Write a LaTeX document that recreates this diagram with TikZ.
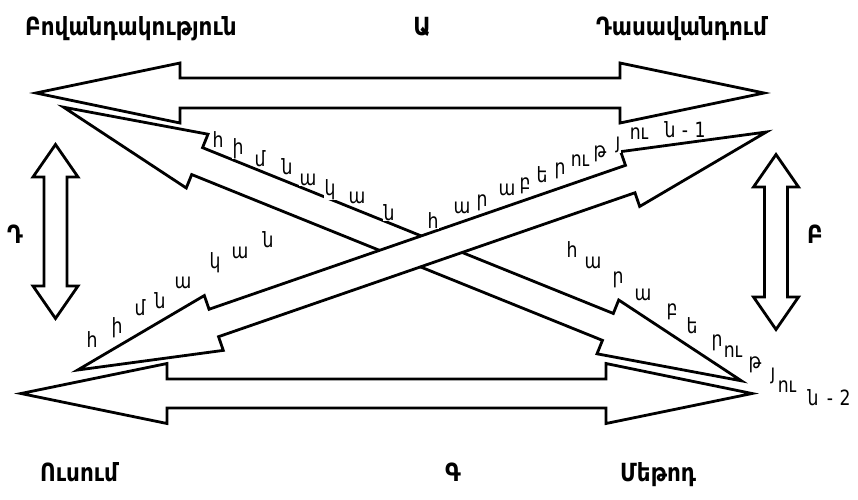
\documentclass[tikz,border=0pt]{standalone}
\usepackage{fontspec}
\setmainfont{DejaVu Sans}
\newfontfamily\armtitle{DejaVu Sans}[FakeStretch=0.86]
\newfontfamily\armlet{DejaVu Sans}[FakeStretch=0.82]
\usetikzlibrary{calc}
\tikzset{
  blk/.style={draw=black, fill=white, line width=2.8pt, line join=miter},
  ttl/.style={font=\armtitle\bfseries\fontsize{25}{29}\selectfont, inner sep=0pt, anchor=base west},
  ttlc/.style={font=\armtitle\bfseries\fontsize{25}{29}\selectfont, inner sep=0pt, anchor=base},
  lt/.style={font=\armlet\fontsize{21}{25}\selectfont, inner sep=0.5pt, fill=white, anchor=base}
}
\newcommand\dblarrow[5]{%
  \coordinate (#1-hb) at ($(#1)!#3!(#2)$);
  \coordinate (#2-hb) at ($(#2)!#3!(#1)$);
  \draw[blk] (#1)
    -- ($(#1-hb)!#4!90:(#2)$)
    -- ($(#1-hb)!#5!90:(#2)$)
    -- ($(#2-hb)!#5!-90:(#1)$)
    -- ($(#2-hb)!#4!-90:(#1)$)
    -- (#2)
    -- ($(#2-hb)!#4!90:(#1)$)
    -- ($(#2-hb)!#5!90:(#1)$)
    -- ($(#1-hb)!#5!-90:(#2)$)
    -- ($(#1-hb)!#4!-90:(#2)$)
    -- cycle;}
\begin{document}
\begin{tikzpicture}[x=1pt,y=-1pt]
\useasboundingbox[fill=white] (0,0) rectangle (858,499);
% tips of the block arrows
\coordinate (TL) at (36,93);      \coordinate (TR) at (764,93);
\coordinate (BL) at (21,393.5);   \coordinate (BR) at (752,393.5);
\coordinate (D1a) at (63.6,107.2); \coordinate (D1b) at (741.4,380.8);
\coordinate (D2a) at (77.7,370);   \coordinate (D2b) at (766.3,132);
\coordinate (VLt) at (55.5,144.5); \coordinate (VLb) at (55.5,318.5);
\coordinate (VRt) at (776,154.5);  \coordinate (VRb) at (776,329.5);
\dblarrow{TL}{TR}{144pt}{30pt}{15pt}
\dblarrow{BL}{BR}{146pt}{30pt}{14.5pt}
\dblarrow{D1a}{D1b}{144pt}{29pt}{14.5pt}
\dblarrow{D2a}{D2b}{144pt}{29pt}{14.5pt}
\dblarrow{VLt}{VLb}{32.5pt}{22.5pt}{11.5pt}
\dblarrow{VRt}{VRb}{32.5pt}{22.5pt}{11.5pt}
% labels
\node[ttl] (content) at (25,35) {Բովանդակություն};
\node[ttlc] (lA) at (422,35) {Ա};
\node[ttl] (teaching) at (596,35) {Դասավանդում};
\node[ttlc] (lD) at (15,243) {Դ};
\node[ttlc] (lB) at (815,243) {Բ};
\node[ttl] (learning) at (40,481) {Ուսում};
\node[ttlc] (lG) at (453,481) {Գ};
\node[ttl] (method) at (620,481) {Մեթոդ};
% text along the first diagonal
\foreach \x/\y/\t [count=\i] in {218/147/հ, 238/154/ի, 260/166/մ, 287/174/ն, 308/185/ա, 330/195/կ, 357/203/ա, 389/220/ն, 433/228/հ, 462/213/ա, 482/206/ր, 507/195/ա, 525/189/բ, 542/182/ե, 560/174/ր, 580/166/ու, 600/157/թ, 618/148/յ, 639/139/ու, 670/137/ն, 685/137/-, 700/137/1}
  \node[lt] (p\i) at (\x,\y) {\t};
% text along the second diagonal
\foreach \x/\y/\t [count=\i] in {92/347/հ, 117/333/ի, 140/315/մ, 160/308/ն, 183/288/ա, 215/268/կ, 240/258/ա, 268/247/ն, 572/257/հ, 593/268/ա, 618/283/ր, 643/300/ա, 672/315/բ, 692/333/ե, 717/346/ր, 733/357/ու, 755/368/թ, 773/379/յ, 787/392/ու, 813/405/ն, 830/405/-, 845/405/2}
  \node[lt] (q\i) at (\x,\y) {\t};
\end{tikzpicture}
\end{document}
